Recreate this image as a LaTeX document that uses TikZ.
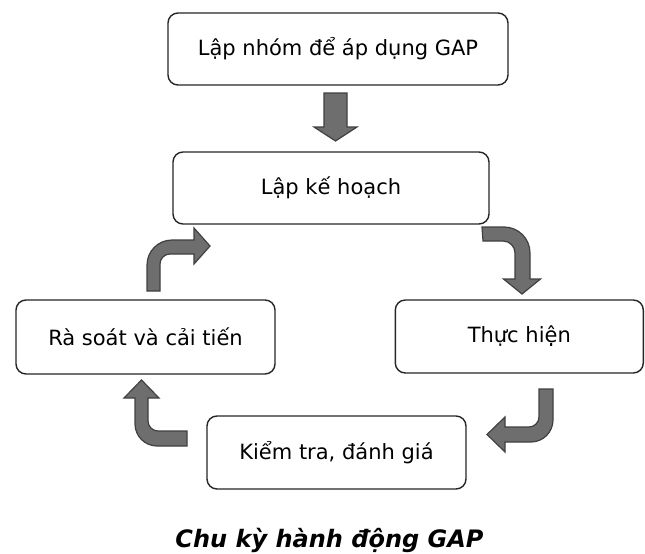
\documentclass[tikz,border=0pt]{standalone}
\usepackage{fontspec}
\setmainfont{DejaVu Sans}
\begin{document}
\begin{tikzpicture}[x=1pt,y=-1pt,
  stagebox/.style={draw=black!85,line width=1.4pt,rounded corners=10pt,fill=white,
    inner sep=0pt,align=center,font=\fontsize{21}{25}\selectfont},
  blockarrow/.style={fill=black!57,draw=black!75,line width=1.2pt,line join=miter}]
\useasboundingbox[fill=white] (0,0) rectangle (645,554);
% boxes
\node[stagebox,minimum width=340pt,minimum height=72pt] (b1) at (338,49) {Lập nhóm để áp dụng GAP};
\node[stagebox,minimum width=316pt,minimum height=72pt] (b2) at (331,188) {Lập kế hoạch};
\node[stagebox,minimum width=259pt,minimum height=74pt] (b3) at (145.5,337) {Rà soát và cải tiến};
\node[stagebox,minimum width=248pt,minimum height=73pt] (b4) at (519.3,336.5) {Thực hiện};
\node[stagebox,minimum width=259pt,minimum height=73pt] (b5) at (336.5,452.5) {Kiểm tra, đánh giá};
% caption
\node[anchor=base,inner sep=0pt,font=\fontsize{24}{28}\selectfont\bfseries\itshape] (cap) at (329.5,547) {Chu kỳ hành động GAP};
% top straight arrow
\draw[blockarrow] (324,93) -- (347,93) -- (347,127) -- (357,127) -- (335.5,141) -- (314,127) -- (324,127) -- cycle;
% Lập kế hoạch -> Thực hiện
\draw[blockarrow] (482,227) -- (504,227) .. controls (518.4,227) and (530,238.6) .. (530,253)
  -- (530,279) -- (540.5,279) -- (522,294) -- (503.5,279) -- (515,279) -- (515,253)
  .. controls (515,246.4) and (509.6,241) .. (503,241) -- (483,241) -- cycle;
% Thực hiện -> Kiểm tra
\draw[blockarrow] (539,389) -- (553,389) -- (553,420) .. controls (553,432.1) and (543.1,442) .. (531,442)
  -- (505,442) -- (505,452) -- (487,434.5) -- (505,417) -- (505,427) -- (529,427)
  .. controls (534.5,427) and (539,422.5) .. (539,417) -- cycle;
% Kiểm tra -> Rà soát
\draw[blockarrow] (187,431) -- (158,431) .. controls (152.5,431) and (148,426.5) .. (148,421)
  -- (148,398) -- (159,398) -- (141.5,380) -- (124,398) -- (135,398) -- (135,424)
  .. controls (135,436.1) and (144.9,446) .. (157,446) -- (187,446) -- cycle;
% Rà soát -> Lập kế hoạch
\draw[blockarrow] (147,291) -- (147,265) .. controls (147,251.2) and (158.2,240) .. (172,240)
  -- (194,240) -- (194,228) -- (210,246) -- (194,264) -- (194,254) -- (170,254)
  .. controls (164.5,254) and (160,258.5) .. (160,264) -- (160,291) -- cycle;
\end{tikzpicture}
\end{document}
